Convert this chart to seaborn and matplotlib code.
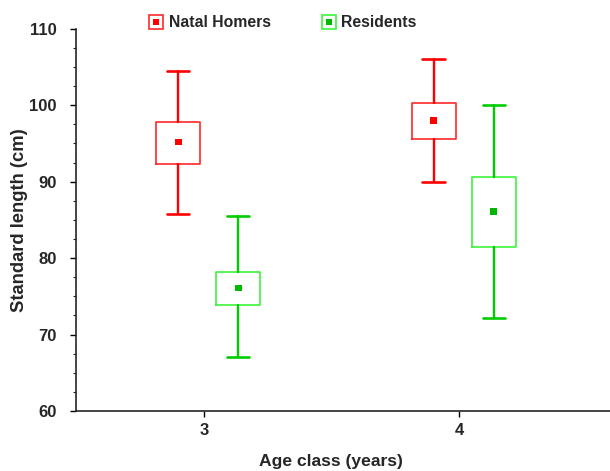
import matplotlib
matplotlib.use("Agg")
import matplotlib.pyplot as plt
from matplotlib.ticker import MultipleLocator
from matplotlib.lines import Line2D
import seaborn as sns
import pandas as pd

# ---- data ----
ages = [3, 4]
groups = ["Natal Homers", "Residents"]
nh_mean = [95.2, 98.05]
nh_box_lo = [92.3, 95.6]
nh_box_hi = [97.8, 100.3]
nh_whis_lo = [85.8, 90.0]
nh_whis_hi = [104.5, 106.1]
res_mean = [76.1, 86.1]
res_box_lo = [73.9, 81.4]
res_box_hi = [78.15, 90.6]
res_whis_lo = [67.0, 72.2]
res_whis_hi = [85.5, 100.0]

sns.set_style("ticks")
plt.rcParams['font.family'] = ['Liberation Sans', 'DejaVu Sans']
plt.rcParams['font.weight'] = 'bold'

fig = plt.figure(figsize=(6.10, 4.71), dpi=100)
ax = fig.add_axes([0.1246, 0.1274, 0.8754, 0.8115])

offsets = {"Natal Homers": -0.10, "Residents": 0.135}
box_col = {"Natal Homers": "#ff2a2a", "Residents": "#3cf53c"}
line_col = {"Natal Homers": "#ff0000", "Residents": "#00cc00"}
mark_col = {"Natal Homers": "#ff0000", "Residents": "#00b800"}

series = {
    "Natal Homers": (nh_mean, nh_box_lo, nh_box_hi, nh_whis_lo, nh_whis_hi),
    "Residents": (res_mean, res_box_lo, res_box_hi, res_whis_lo, res_whis_hi),
}

rows = []
for g in groups:
    mean, blo, bhi, wlo, whi = series[g]
    stats = []
    pos = []
    for i, a in enumerate(ages):
        stats.append(dict(med=mean[i], q1=blo[i], q3=bhi[i], whislo=wlo[i],
                          whishi=whi[i], fliers=[]))
        pos.append(a + offsets[g])
        rows.append(dict(x=a + offsets[g], y=mean[i], group=g))
    ax.bxp(stats, positions=pos, widths=0.173, capwidths=0.088,
           showfliers=False, patch_artist=False, manage_ticks=False,
           boxprops=dict(color=box_col[g], linewidth=1.2),
           whiskerprops=dict(color=line_col[g], linewidth=1.7),
           capprops=dict(color=line_col[g], linewidth=1.9),
           medianprops=dict(linewidth=0))

df = pd.DataFrame(rows)
sns.scatterplot(data=df, x="x", y="y", hue="group", palette=mark_col,
                marker="s", s=24, linewidth=0, ax=ax, legend=False, zorder=5)

ax.set_xlim(2.5, 4.59)
ax.set_ylim(60, 110)
ax.set_xticks(ages)
ax.set_xticklabels([str(a) for a in ages])
ax.yaxis.set_major_locator(MultipleLocator(10))
ax.yaxis.set_minor_locator(MultipleLocator(2.5))
ax.tick_params(axis='both', which='major', direction='out', length=4, width=1,
               labelsize=12, color='black')
ax.tick_params(axis='y', which='major', pad=10)
ax.tick_params(axis='x', which='major', pad=5)
ax.tick_params(axis='y', which='minor', direction='out', length=2.5, width=0.8)
for lab in ax.get_xticklabels() + ax.get_yticklabels():
    lab.set_fontweight('bold')
ax.spines['top'].set_visible(False)
ax.spines['right'].set_visible(False)
ax.spines['left'].set_linewidth(1.2)
ax.spines['bottom'].set_linewidth(1.2)
ax.set_xlabel("Age class (years)", fontsize=12.6, fontweight='bold')
ax.set_ylabel("Standard length (cm)", fontsize=13.2, fontweight='bold')
ax.xaxis.set_label_coords(0.4775, -0.113)
ax.yaxis.set_label_coords(-0.089, 0.5)

handles = []
for g in groups:
    outer = Line2D([], [], linestyle='none', marker='s', markersize=10,
                   markerfacecolor='white', markeredgecolor=box_col[g], markeredgewidth=1.2)
    inner = Line2D([], [], linestyle='none', marker='s', markersize=4,
                   markerfacecolor=mark_col[g], markeredgewidth=0)
    handles.append((outer, inner))
fig.legend(handles, groups, loc='center', bbox_to_anchor=(0.463, 0.952), ncol=2,
           frameon=False, handlelength=1.0, handletextpad=0.3,
           columnspacing=3.2, prop=dict(weight='bold', size=11.3))

fig.savefig("out.png", dpi=100)
